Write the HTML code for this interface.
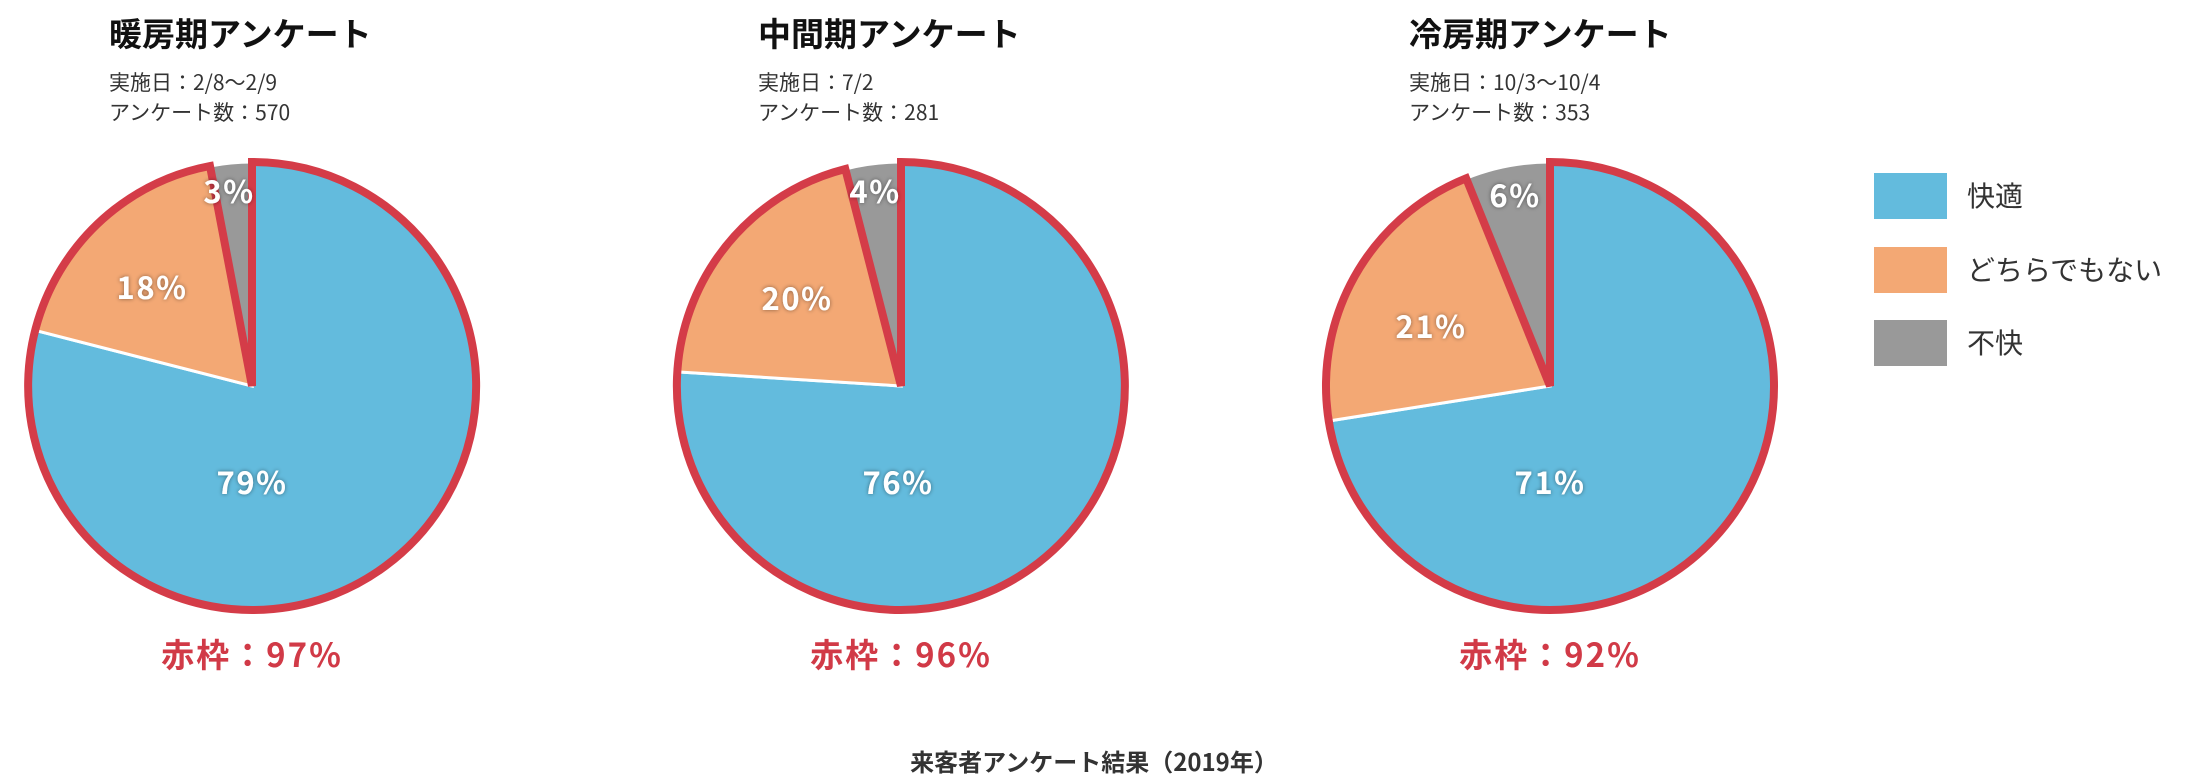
<!DOCTYPE html>
<html><head><meta charset="utf-8"><style>
html,body{margin:0;padding:0;background:#fff;}
svg{display:block;}
text{font-family:"Noto Sans CJK JP","Liberation Sans",sans-serif;}
.t{font-size:33px;font-weight:bold;fill:#111;}
.s{font-size:21px;fill:#333;}
.l{font-size:31px;font-weight:bold;fill:#fff;filter:url(#sh);letter-spacing:1.5px;}
.r{font-size:33px;font-weight:bold;fill:#d13a47;letter-spacing:2px;}
.g{font-size:28px;fill:#333;}
</style></head><body>
<svg width="2200" height="778" viewBox="0 0 2200 778" xmlns="http://www.w3.org/2000/svg">
<defs><filter id="sh" x="-20%" y="-20%" width="140%" height="140%"><feDropShadow dx="0" dy="0" stdDeviation="2" flood-color="#000" flood-opacity="0.45"/></filter></defs>

<g stroke="#fff" stroke-width="3">
<path d="M252,386 L252,162 A224,224 0 1 1 35.0,330.3 Z" fill="#63bbdd"/>
<path d="M252,386 L35.0,330.3 A224,224 0 0 1 210.0,166.0 Z" fill="#f3a874"/>
<path d="M252,386 L210.0,166.0 A224,224 0 0 1 252,162 Z" fill="#999"/>
</g>
<path d="M252,386 L252,162 A224,224 0 1 1 210.0,166.0 Z" fill="none" stroke="#d43c48" stroke-width="8"/>

<g stroke="#fff" stroke-width="3">
<path d="M901,386 L901,162 A224,224 0 1 1 677.4,371.9 Z" fill="#63bbdd"/>
<path d="M901,386 L677.4,371.9 A224,224 0 0 1 845.3,169.0 Z" fill="#f3a874"/>
<path d="M901,386 L845.3,169.0 A224,224 0 0 1 901,162 Z" fill="#999"/>
</g>
<path d="M901,386 L901,162 A224,224 0 1 1 845.3,169.0 Z" fill="none" stroke="#d43c48" stroke-width="8"/>

<g stroke="#fff" stroke-width="3">
<path d="M1550,386 L1550,162 A224,224 0 1 1 1328.8,421.0 Z" fill="#63bbdd"/>
<path d="M1550,386 L1328.8,421.0 A224,224 0 0 1 1466.1,178.3 Z" fill="#f3a874"/>
<path d="M1550,386 L1466.1,178.3 A224,224 0 0 1 1550,162 Z" fill="#999"/>
</g>
<path d="M1550,386 L1550,162 A224,224 0 1 1 1466.1,178.3 Z" fill="none" stroke="#d43c48" stroke-width="8"/>

<text class="t" x="109" y="46">暖房期アンケート</text>
<text class="s" x="109" y="90">実施日：2/8～2/9</text>
<text class="s" x="109" y="120">アンケート数：570</text>
<text class="t" x="758" y="46">中間期アンケート</text>
<text class="s" x="758" y="90">実施日：7/2</text>
<text class="s" x="758" y="120">アンケート数：281</text>
<text class="t" x="1409" y="46">冷房期アンケート</text>
<text class="s" x="1409" y="90">実施日：10/3～10/4</text>
<text class="s" x="1409" y="120">アンケート数：353</text>

<g text-anchor="middle">
<text class="l" x="252" y="494">79%</text>
<text class="l" x="152" y="299">18%</text>
<text class="l" x="229" y="203">3%</text>
<text class="l" x="898" y="494">76%</text>
<text class="l" x="797" y="310">20%</text>
<text class="l" x="875" y="203">4%</text>
<text class="l" x="1550" y="494">71%</text>
<text class="l" x="1431" y="338">21%</text>
<text class="l" x="1515" y="207">6%</text>
<text class="r" x="252" y="667">赤枠：97%</text>
<text class="r" x="901" y="667">赤枠：96%</text>
<text class="r" x="1550" y="667">赤枠：92%</text>
<text x="1094" y="771" style="font-size:24px;font-weight:bold;fill:#333;">来客者アンケート結果（2019年）</text>
</g>

<rect x="1874" y="173" width="73" height="46" fill="#63bbdd"/>
<rect x="1874" y="247" width="73" height="46" fill="#f3a874"/>
<rect x="1874" y="320" width="73" height="46" fill="#999"/>
<text class="g" x="1967" y="206">快適</text>
<text class="g" x="1967" y="280">どちらでもない</text>
<text class="g" x="1967" y="353">不快</text>
</svg>
</body></html>
